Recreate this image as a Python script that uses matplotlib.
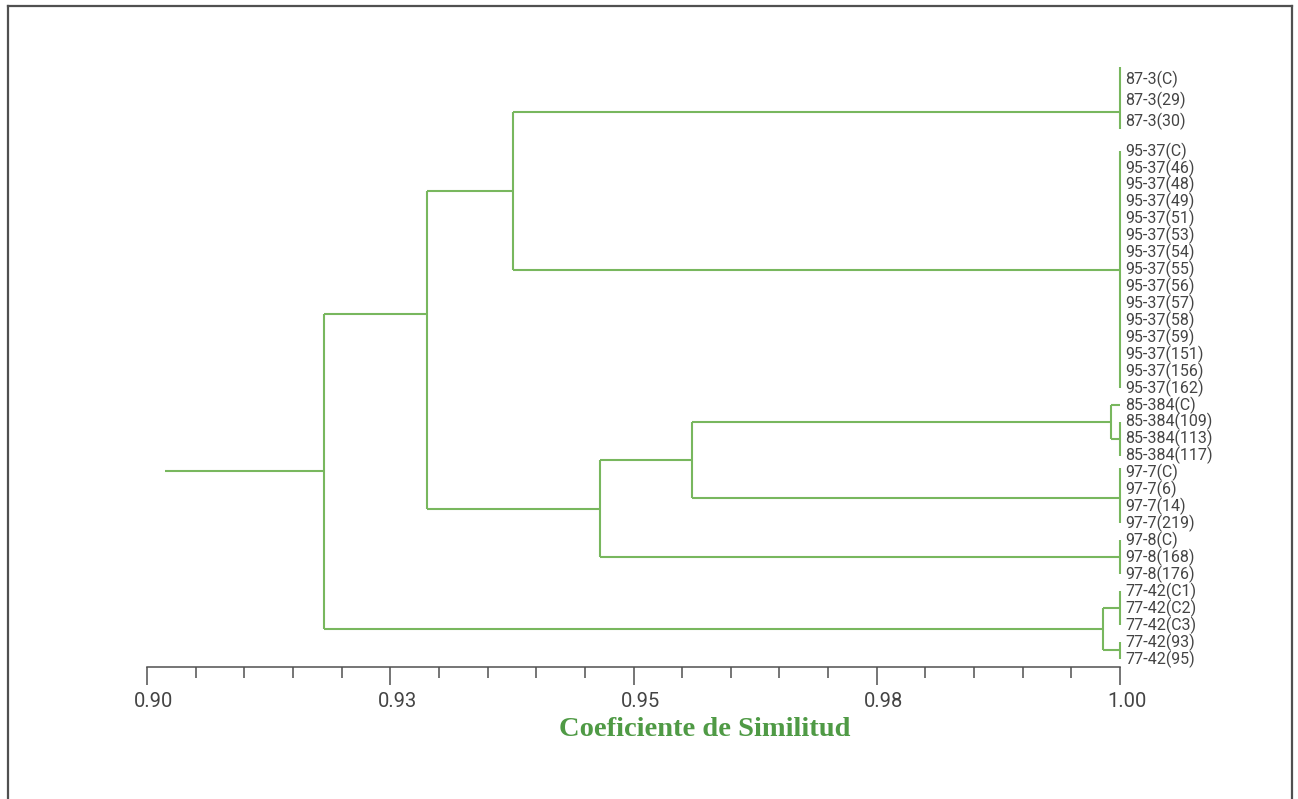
import matplotlib
matplotlib.use('Agg')
import matplotlib.pyplot as plt
from matplotlib.lines import Line2D
from matplotlib.ticker import MultipleLocator, FixedLocator, FixedFormatter
from matplotlib.transforms import offset_copy, ScaledTranslation

# ── Data ──────────────────────────────────────────────────────────────────────
leaf_names = ['87-3(C)', '87-3(29)', '87-3(30)',
              '95-37(C)', '95-37(46)', '95-37(48)', '95-37(49)', '95-37(51)',
              '95-37(53)', '95-37(54)', '95-37(55)', '95-37(56)', '95-37(57)',
              '95-37(58)', '95-37(59)', '95-37(151)', '95-37(156)', '95-37(162)',
              '85-384(C)', '85-384(109)', '85-384(113)', '85-384(117)',
              '97-7(C)', '97-7(6)', '97-7(14)', '97-7(219)',
              '97-8(C)', '97-8(168)', '97-8(176)',
              '77-42(C1)', '77-42(C2)', '77-42(C3)', '77-42(93)', '77-42(95)']

# merges, bottom-up: children are leaf indices or earlier node names
node_names = ['g87_3', 'g95_37', 'g85_384b', 'g85_384', 'g97_7', 'g97_8',
              'g77_42a', 'g77_42b', 'g77_42', 'n_b', 'n_d', 'n_c', 'n_a', 'root']
node_children = [[0, 1, 2],
                 [3, 4, 5, 6, 7, 8, 9, 10, 11, 12, 13, 14, 15, 16, 17],
                 [19, 20, 21],
                 [18, 'g85_384b'],
                 [22, 23, 24, 25],
                 [26, 27, 28],
                 [29, 30, 31],
                 [32, 33],
                 ['g77_42a', 'g77_42b'],
                 ['g87_3', 'g95_37'],
                 ['g85_384', 'g97_7'],
                 ['n_d', 'g97_8'],
                 ['n_b', 'n_c'],
                 ['n_a', 'g77_42']]
node_sim = [1.0, 1.0, 1.0, 0.9991, 1.0, 1.0, 1.0, 1.0, 0.9983,
            0.9376, 0.9560, 0.9466, 0.9288, 0.9182]
root_start = 0.9019
leaf_sim = 1.0

major_ticks = [0.90, 0.925, 0.95, 0.975, 1.00]
major_labels = ['0.90', '0.93', '0.95', '0.98', '1.00']

# ── Style / layout ────────────────────────────────────────────────────────────
LINE = '#78b75e'
AXIS = '#505050'
TEXT = '#444444'
TITLE_GREEN = '#4f9a45'
TOP_STEP, TOP_GAP = 1.24, 1.77          # first group is spaced a bit wider
LINK_FRAC = {'g87_3': 0.79, 'n_a': 0.386}
SPAN_PAD = {'g87_3': (0.7, 0.5), 'g97_7': (0.3, 0.0)}

W, H = 1298, 799
fig = plt.figure(figsize=(W / 100, H / 100), dpi=100, facecolor='white')
ax = fig.add_axes([147 / W, 1 - 667 / H, 973 / W, (667 - 60) / H])
ax.set_xlim(0.90, 1.00)
ax.set_ylim(30.48, -5.375)

# leaf rows
pos = {}
for i, name in enumerate(leaf_names):
    if i < 3:
        y = -TOP_GAP - (2 - i) * TOP_STEP
    else:
        y = i - 3
    pos[i] = (leaf_sim, y)

for name, kids, s in zip(node_names, node_children, node_sim):
    ys = [pos[k][1] for k in kids]
    lo, hi = min(ys), max(ys)
    p_lo, p_hi = SPAN_PAD.get(name, (0, 0))
    ax.plot([s, s], [lo - p_lo, hi + p_hi], color=LINE, lw=1.5,
            solid_capstyle='butt', clip_on=False)
    for k in kids:
        kx, ky = pos[k]
        if kx != s:
            ax.plot([s, kx], [ky, ky], color=LINE, lw=1.5,
                    solid_capstyle='butt', clip_on=False)
    pos[name] = (s, lo + LINK_FRAC.get(name, 0.5) * (hi - lo))

rx, ry = pos['root']
ax.plot([root_start, rx], [ry, ry], color=LINE, lw=1.5,
        solid_capstyle='butt', clip_on=False)

# leaf labels
lbl_tr = offset_copy(ax.transData, fig=fig, x=5, y=0, units='dots')
for i, name in enumerate(leaf_names):
    ax.text(leaf_sim, pos[i][1], name, transform=lbl_tr, fontsize=11.5,
            family='Roboto', color=TEXT, va='center', ha='left', clip_on=False)

# axis
for sp in ['top', 'right', 'left']:
    ax.spines[sp].set_visible(False)
ax.spines['bottom'].set_color(AXIS)
ax.spines['bottom'].set_linewidth(1.1)
ax.set_yticks([])
ax.xaxis.set_major_locator(FixedLocator(major_ticks))
ax.xaxis.set_major_formatter(FixedFormatter(major_labels))
ax.xaxis.set_minor_locator(MultipleLocator(0.005))
ax.tick_params(axis='x', which='major', direction='out', length=13, width=1.1,
               color=AXIS, labelsize=14.5, labelcolor=TEXT, pad=5)
ax.tick_params(axis='x', which='minor', direction='out', length=8, width=1.1,
               color=AXIS)
shift = ScaledTranslation(7 / 100, 0, fig.dpi_scale_trans)
for t in ax.get_xticklabels():
    t.set_family('Roboto')
    t.set_transform(t.get_transform() + shift)
ax.set_facecolor('none')

ax.set_xlabel('Coeficiente de Similitud', fontsize=20.5, fontweight='bold',
              family='Liberation Serif', color=TITLE_GREEN)
ax.xaxis.set_label_coords((704.5 - 147) / 973, (667 - 730) / 607)
ax.xaxis.label.set_va('center')

# outer frame
fw = 1.6
fig.add_artist(Line2D([8 / W, 8 / W], [0, 1 - 6 / H], color=AXIS, lw=fw))
fig.add_artist(Line2D([8 / W, 1292 / W], [1 - 6 / H, 1 - 6 / H], color=AXIS, lw=fw))
fig.add_artist(Line2D([1292 / W, 1292 / W], [0, 1 - 6 / H], color=AXIS, lw=fw))

fig.savefig('out.png', dpi=100, facecolor='white')
